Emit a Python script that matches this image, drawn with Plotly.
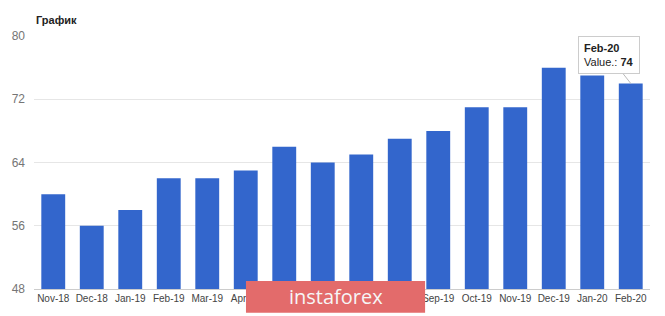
import plotly.graph_objects as go

categories = ["Nov-18", "Dec-18", "Jan-19", "Feb-19", "Mar-19", "Apr-19", "May-19", "Jun-19",
              "Jul-19", "Aug-19", "Sep-19", "Oct-19", "Nov-19", "Dec-19", "Jan-20", "Feb-20"]
values = [60, 56, 58, 62, 62, 63, 66, 64, 65, 67, 68, 71, 71, 76, 75, 74]
y_ticks = [48, 56, 64, 72, 80]

FONT = "Arial, Liberation Sans, sans-serif"

fig = go.Figure(go.Bar(x=categories, y=values, marker=dict(color="#3366cc", line=dict(width=0)),
                       name="Value."))

fig.update_layout(
    width=665, height=316,
    margin=dict(l=31, r=15, t=36, b=24),
    paper_bgcolor="white", plot_bgcolor="white",
    bargap=0.38,
    showlegend=False,
    font=dict(family=FONT),
    xaxis=dict(showgrid=False, showline=True, linecolor="#cccccc", linewidth=1,
               tickfont=dict(size=10, color="#444444"), ticks="", ticklen=0),
    yaxis=dict(range=[48, 80], tickvals=y_ticks, showgrid=True, gridcolor="#e6e6e6",
               zeroline=False, tickfont=dict(size=12, color="#757575"), ticks="",
               ticklabelstandoff=8),
    annotations=[
        dict(text="<b>График</b>", xref="paper", yref="paper", x=0.0, y=1.0,
             xanchor="left", yanchor="bottom", yshift=8, showarrow=False,
             font=dict(size=11, color="#222222")),
        dict(text="<b>Feb-20</b><br>Value.: <b>74</b>", x="Feb-20", y=74,
             ax=-22, ay=-28, showarrow=True, arrowhead=0, arrowwidth=1, arrowcolor="#bbbbbb",
             bgcolor="white", bordercolor="#cccccc", borderwidth=1, borderpad=5,
             align="left", font=dict(size=11, color="#222222")),
        dict(text="instaforex", xref="paper", yref="paper", x=(334 - 31) / 619, y=(292 - 300) / 256,
             xanchor="center", yanchor="middle", showarrow=False,
             font=dict(size=20, color="#f6f6f6", family="Open Sans, sans-serif")),
    ],
    shapes=[
        dict(type="rect", xref="paper", yref="paper", x0=(244 - 31) / 619, x1=(424 - 31) / 619,
             y0=(292 - 316) / 256, y1=(292 - 284) / 256, fillcolor="#e36b6b",
             line=dict(width=0), layer="above"),
    ],
)

fig.write_html("out.html")
